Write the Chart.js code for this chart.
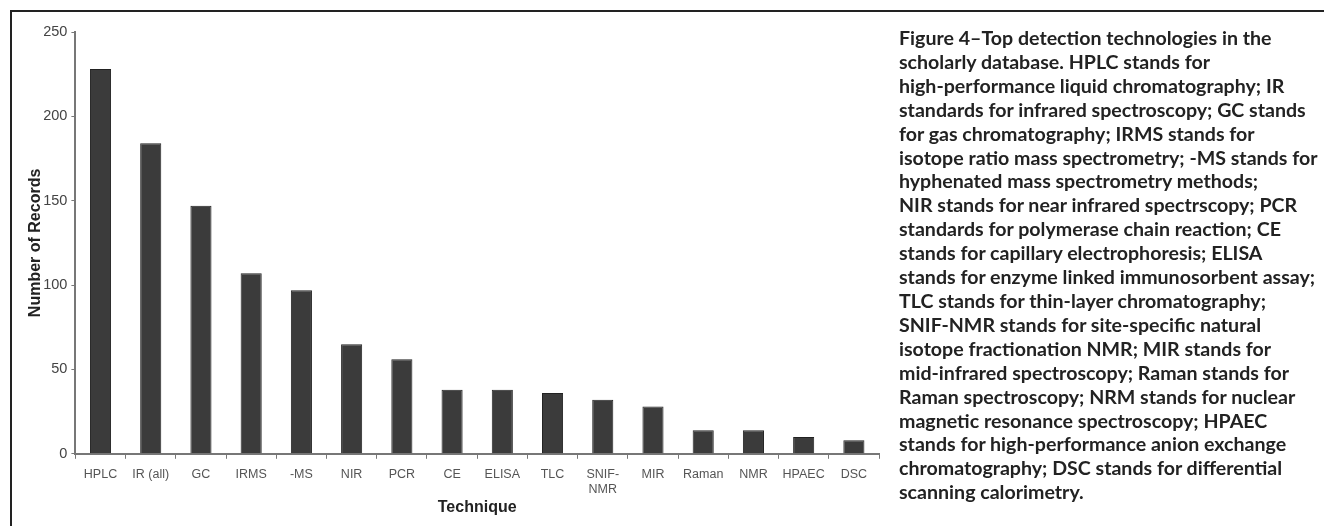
<!DOCTYPE html>
<html>
<head>
<meta charset="utf-8">
<script src="https://cdn.jsdelivr.net/npm/chart.js@4/dist/chart.umd.min.js"></script>
<style>
  html, body { margin: 0; padding: 0; background: #fff; width: 1324px; height: 526px; overflow: hidden; }
  #frame { position: absolute; left: 10px; top: 10px; right: -10px; bottom: -10px; border-left: 2px solid #222; border-top: 2px solid #222; }
  #wrap { position: absolute; left: 0; top: 0; width: 900px; height: 530px; }
  #caption { position: absolute; left: 899px; top: 26px; width: 430px; font-family: Lato, "Noto Sans", sans-serif; font-weight: 700; font-size: 19.6px; line-height: 23.9px; color: #222; white-space: nowrap; }
</style>
</head>
<body>
<div id="frame"></div>
<div id="wrap"><canvas id="c" width="900" height="530"></canvas></div>
<div id="caption">Figure 4–Top detection technologies in the<br>scholarly database. HPLC stands for<br>high-performance liquid chromatography; IR<br>standards for infrared spectroscopy; GC stands<br>for gas chromatography; IRMS stands for<br>isotope ratio mass spectrometry; -MS stands for<br>hyphenated mass spectrometry methods;<br>NIR stands for near infrared spectrscopy; PCR<br>standards for polymerase chain reaction; CE<br>stands for capillary electrophoresis; ELISA<br>stands for enzyme linked immunosorbent assay;<br>TLC stands for thin-layer chromatography;<br>SNIF-NMR stands for site-specific natural<br>isotope fractionation NMR; MIR stands for<br>mid-infrared spectroscopy; Raman stands for<br>Raman spectroscopy; NRM stands for nuclear<br>magnetic resonance spectroscopy; HPAEC<br>stands for high-performance anion exchange<br>chromatography; DSC stands for differential<br>scanning calorimetry.</div>
<script>
const techniques = ['HPLC', 'IR (all)', 'GC', 'IRMS', '-MS', 'NIR', 'PCR', 'CE', 'ELISA', 'TLC', ['SNIF-', 'NMR'], 'MIR', 'Raman', 'NMR', 'HPAEC', 'DSC'];
const records = [228, 184, 147, 107, 97, 65, 56, 38, 38, 36, 32, 28, 14, 14, 10, 8];
const yTicks = [0, 50, 100, 150, 200, 250];
const xTitle = 'Technique';
const yTitle = 'Number of Records';

new Chart(document.getElementById('c'), {
  type: 'bar',
  data: {
    labels: techniques,
    datasets: [{
      data: records,
      backgroundColor: '#3b3b3b',
      borderColor: '#222',
      borderWidth: 1,
      categoryPercentage: 1,
      barPercentage: 0.42
    }]
  },
  options: {
    responsive: false,
    animation: false,
    devicePixelRatio: 1,
    layout: { padding: { top: 32, right: 21, bottom: 13, left: 24 } },
    plugins: { legend: { display: false }, tooltip: { enabled: false } },
    scales: {
      x: {
        grid: { display: true, drawOnChartArea: false, offset: true, tickLength: 5, color: '#777', lineWidth: 1 },
        border: { display: true, color: '#777', width: 2 },
        ticks: { color: '#555', font: { family: 'Liberation Sans', size: 12.5 }, maxRotation: 0, autoSkip: false, padding: 8 },
        title: { display: true, text: xTitle, color: '#222', font: { family: 'Liberation Sans', size: 16, weight: 'bold' }, padding: { top: -7, bottom: 0 } }
      },
      y: {
        min: 0, max: 250,
        afterBuildTicks: (s) => { s.ticks = yTicks.map(v => ({ value: v })); },
        grid: { display: true, drawOnChartArea: false, tickLength: 4, color: '#777' },
        border: { display: true, color: '#777', width: 2 },
        ticks: { color: '#444', font: { family: 'Liberation Sans', size: 14.5 }, padding: 4 },
        title: { display: true, text: yTitle, color: '#222', font: { family: 'Liberation Sans', size: 16, weight: 'bold' }, padding: { top: 2, bottom: -6 } }
      }
    }
  }
});
</script>
</body>
</html>
